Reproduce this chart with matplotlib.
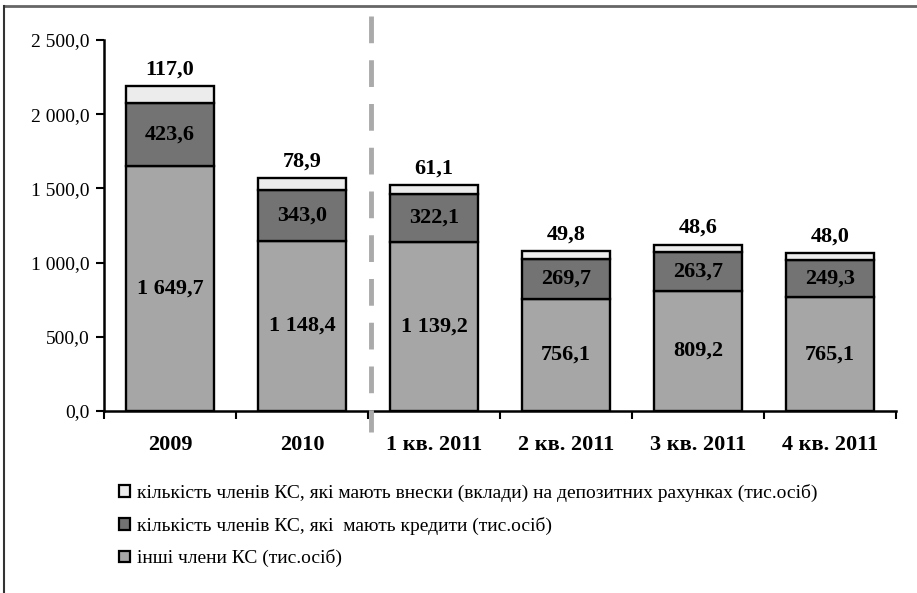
import matplotlib
matplotlib.use("Agg")
import matplotlib.pyplot as plt
from matplotlib.lines import Line2D
from matplotlib.patches import Patch
from matplotlib.ticker import FuncFormatter

plt.rcParams['font.family'] = ['Liberation Serif', 'DejaVu Serif']

categories = ["2009", "2010", "1 кв. 2011", "2 кв. 2011", "3 кв. 2011", "4 кв. 2011"]
others = [1649.7, 1148.4, 1139.2, 756.1, 809.2, 765.1]
credits = [423.6, 343.0, 322.1, 269.7, 263.7, 249.3]
deposits = [117.0, 78.9, 61.1, 49.8, 48.6, 48.0]

series_labels = [
    "кількість членів КС, які мають внески (вклади) на депозитних рахунках (тис.осіб)",
    "кількість членів КС, які  мають кредити (тис.осіб)",
    "інші члени КС (тис.осіб)",
]

c_others = "#a6a6a6"
c_credits = "#737373"
c_deposits = "#ececec"


def fmt_num(v, pos=None):
    s = f"{v:,.1f}"
    return s.replace(",", " ").replace(".", ",")


fig = plt.figure(figsize=(9.17, 5.93), dpi=100)
ax = fig.add_axes([104 / 917, 1 - 411 / 593, 792 / 917, 371 / 593])

x = list(range(len(categories)))
w = 0.67
edge = dict(edgecolor="black", linewidth=1.7)
ax.bar(x, others, w, color=c_others, **edge)
ax.bar(x, credits, w, bottom=others, color=c_credits, **edge)
bottom2 = [a + b for a, b in zip(others, credits)]
ax.bar(x, deposits, w, bottom=bottom2, color=c_deposits, **edge)

lab = dict(ha="center", va="center", fontsize=16, fontweight="bold", color="black")
for i in x:
    ax.text(i, others[i] / 2, fmt_num(others[i]), **lab)
    ax.text(i, others[i] + credits[i] / 2, fmt_num(credits[i]), **lab)
    top = bottom2[i] + deposits[i]
    ax.annotate(fmt_num(deposits[i]), (i, top), xytext=(0, 12),
                textcoords="offset points", **lab)

ax.set_xlim(-0.5, len(categories) - 0.5)
ax.set_ylim(0, 2500)
ax.set_yticks([0, 500, 1000, 1500, 2000, 2500])
ax.yaxis.set_major_formatter(FuncFormatter(fmt_num))
ax.tick_params(axis="y", labelsize=14, length=5.5, width=1.5, direction="out", pad=5)

ax.set_xticks(x)
ax.set_xticklabels(categories, fontsize=16, fontweight="bold")
ax.set_xticks([i + 0.5 for i in range(-1, len(categories))], minor=True)
ax.tick_params(axis="x", which="major", length=0, pad=17)
ax.tick_params(axis="x", which="minor", length=6, width=1.5, direction="out")

for s in ["top", "right"]:
    ax.spines[s].set_visible(False)
for s in ["left", "bottom"]:
    ax.spines[s].set_linewidth(1.8)

# divider between annual and quarterly data
fig.add_artist(Line2D([371 / 917, 371 / 917], [1 - 16 / 593, 1 - 432 / 593],
                      color="#aaaaaa", linewidth=3.5, linestyle=(0, (5.5, 3.5))))

# outer frame (top and left edges)
fig.add_artist(Line2D([4 / 917, 1.0], [1 - 6 / 593, 1 - 6 / 593],
                      color="#666666", linewidth=2))
fig.add_artist(Line2D([4 / 917, 4 / 917], [0, 1 - 6 / 593],
                      color="#333333", linewidth=1.5))

handles = [
    Patch(facecolor=c_deposits, edgecolor="black", linewidth=1.6),
    Patch(facecolor=c_credits, edgecolor="black", linewidth=1.6),
    Patch(facecolor=c_others, edgecolor="black", linewidth=1.6),
]
fig.legend(handles, series_labels, loc="upper left",
           bbox_to_anchor=(119 / 917, 1 - 484 / 593), frameon=False,
           fontsize=14, handlelength=0.55, handleheight=0.55, handletextpad=0.4,
           labelspacing=0.75, borderpad=0, borderaxespad=0)

fig.savefig("out.png", dpi=100)
